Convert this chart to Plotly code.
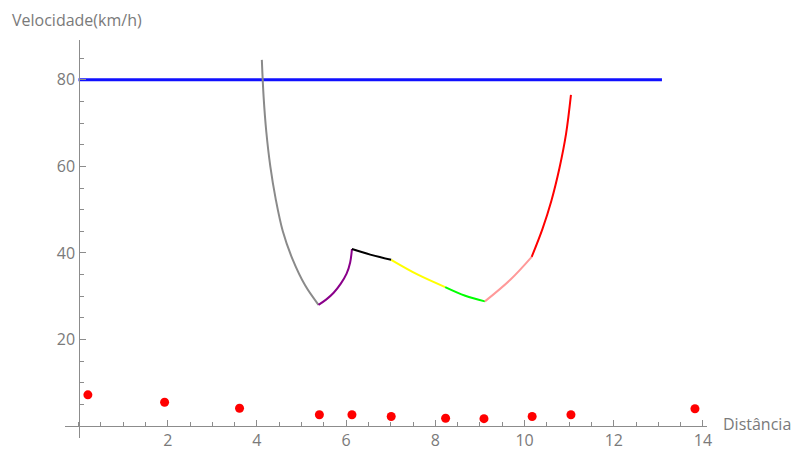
import plotly.graph_objects as go

# ---- data ----
limit_x = [0.0, 13.08]
limit_y = [80, 80]

gray_x = [4.11, 4.15, 4.21, 4.30, 4.42, 4.58, 4.80, 5.08, 5.38]
gray_y = [84.6, 76.0, 68.0, 60.0, 52.5, 45.0, 38.5, 32.5, 28.0]

purple_x = [5.38, 5.55, 5.72, 5.88, 6.01, 6.09, 6.13]
purple_y = [28.0, 29.2, 30.8, 32.9, 35.2, 37.8, 40.9]

black_x = [6.13, 6.54, 7.01]
black_y = [40.9, 39.6, 38.4]

yellow_x = [7.01, 7.62, 8.22]
yellow_y = [38.4, 34.9, 32.1]

green_x = [8.22, 8.67, 9.11]
green_y = [32.1, 30.1, 28.8]

pink_x = [9.11, 9.68, 10.16]
pink_y = [28.8, 33.8, 39.1]

red_x = [10.16, 10.40, 10.60, 10.78, 10.93, 11.04]
red_y = [39.1, 45.5, 52.0, 59.5, 67.5, 76.5]

dots_x = [0.21, 1.93, 3.61, 5.40, 6.13, 7.01, 8.23, 9.09, 10.17, 11.04, 13.82]
dots_y = [7.2, 5.5, 4.1, 2.6, 2.6, 2.2, 1.8, 1.7, 2.2, 2.6, 4.0]

x_ticks = [2, 4, 6, 8, 10, 12, 14]
y_ticks = [20, 40, 60, 80]

x_label = "Distância"
y_label = "Velocidade(km/h)"

# ---- figure ----
FONT = "Open Sans"
AXC = "#8c8c8c"
TXC = "#7a7a7a"

fig = go.Figure()

fig.add_trace(go.Scatter(x=limit_x, y=limit_y, mode="lines",
                         line=dict(color="#1010ff", width=3), hoverinfo="skip"))

segments = [
    (gray_x, gray_y, "#8a8a8a"),
    (purple_x, purple_y, "#8a008a"),
    (black_x, black_y, "#000000"),
    (yellow_x, yellow_y, "#ffff00"),
    (green_x, green_y, "#00ff00"),
    (pink_x, pink_y, "#ff9999"),
    (red_x, red_y, "#ff0000"),
]
for sx, sy, col in segments:
    fig.add_trace(go.Scatter(x=sx, y=sy, mode="lines",
                             line=dict(color=col, width=2, shape="spline", smoothing=1.0),
                             hoverinfo="skip"))

fig.add_trace(go.Scatter(x=dots_x, y=dots_y, mode="markers",
                         marker=dict(color="#ff0000", size=9), hoverinfo="skip"))

xr = [-0.303, 14.09]
yr = [-2.77, 89.2]

fig.update_layout(
    width=795, height=450,
    margin=dict(l=65, r=88, t=40, b=12),
    paper_bgcolor="white", plot_bgcolor="white",
    showlegend=False,
    font=dict(family=FONT, size=16, color=TXC),
    xaxis=dict(range=xr, showgrid=False, zeroline=False, automargin=False,
               showline=True, linecolor=AXC, linewidth=1.3,
               anchor="free", position=(0 - yr[0]) / (yr[1] - yr[0]),
               tickmode="array", tickvals=x_ticks,
               ticks="inside", ticklen=6, tickcolor=AXC, tickwidth=1.2,
               tickfont=dict(family=FONT, size=16, color=TXC),
               minor=dict(ticks="inside", dtick=0.5, tick0=0, ticklen=4,
                          tickcolor=AXC, tickwidth=1, showgrid=False)),
    yaxis=dict(range=yr, showgrid=False, zeroline=False, automargin=False,
               showline=True, linecolor=AXC, linewidth=1.3,
               anchor="free", position=(0 - xr[0]) / (xr[1] - xr[0]),
               tickmode="array", tickvals=y_ticks,
               ticks="inside", ticklen=6, tickcolor=AXC, tickwidth=1.2,
               tickfont=dict(family=FONT, size=16, color=TXC),
               minor=dict(ticks="inside", dtick=5, tick0=0, ticklen=4,
                          tickcolor=AXC, tickwidth=1, showgrid=False)),
    annotations=[
        dict(text=y_label, xref="paper", yref="paper",
             x=(10 - 65) / 642, y=(438 - 20) / 398,
             xanchor="left", yanchor="middle", showarrow=False,
             font=dict(family=FONT, size=16, color=TXC)),
        dict(text=x_label, xref="paper", yref="paper",
             x=(721 - 65) / 642, y=(438 - 424) / 398,
             xanchor="left", yanchor="middle", showarrow=False,
             font=dict(family=FONT, size=16, color=TXC)),
    ],
)

fig.write_html("out.html")
